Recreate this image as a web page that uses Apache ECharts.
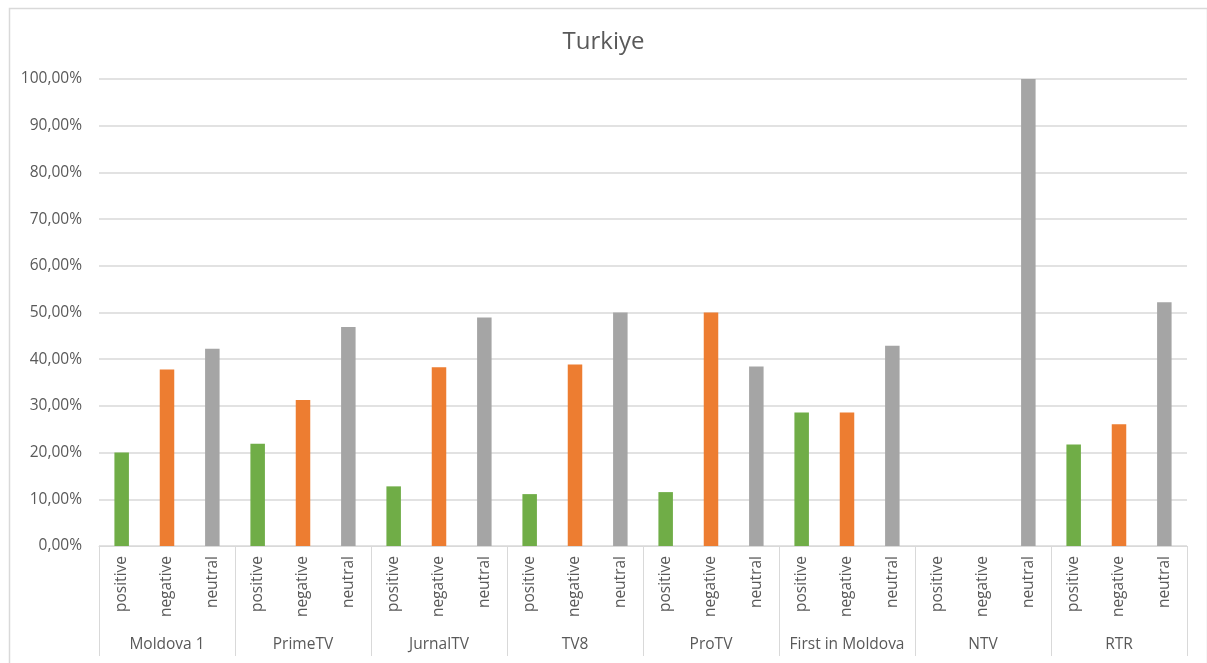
<!DOCTYPE html>
<html>
<head>
<meta charset="utf-8">
<title>Turkiye</title>
<script src="https://cdn.jsdelivr.net/npm/echarts@6/dist/echarts.min.js"></script>
<style>
  html, body { margin: 0; padding: 0; background: #ffffff; }
  #chart { width: 1207px; height: 663px; }
</style>
</head>
<body>
<div id="chart"></div>
<script>
// Share of coverage tone per TV channel, in percent
const channels = ['Moldova 1', 'PrimeTV', 'JurnalTV', 'TV8', 'ProTV', 'First in Moldova', 'NTV', 'RTR'];
const sentiments = ['positive', 'negative', 'neutral'];
const positive = [20.00, 21.88, 12.77, 11.11, 11.54, 28.57, 0, 21.74];
const negative = [37.78, 31.25, 38.30, 38.89, 50.00, 28.57, 0, 26.09];
const neutral  = [42.22, 46.88, 48.94, 50.00, 38.46, 42.86, 100.00, 52.17];
const yMin = 0, yMax = 100, yStep = 10;

const toneColor = { positive: '#70ad47', negative: '#ed7d31', neutral: '#a5a5a5' };
const valuesByTone = { positive, negative, neutral };

// Flatten into one category per (channel, tone) pair
const innerCats = [];
const barData = [];
channels.forEach((ch, i) => {
  sentiments.forEach(s => {
    innerCats.push(s);
    barData.push({ value: valuesByTone[s][i], itemStyle: { color: toneColor[s] } });
  });
});

const FONT = "'Open Sans', 'Liberation Sans', sans-serif";
const TEXT = '#595959';
const LINE = '#d9d9d9';

const chart = echarts.init(document.getElementById('chart'), null, { renderer: 'canvas' });
chart.setOption({
  backgroundColor: '#ffffff',
  animation: false,
  textStyle: { fontFamily: FONT },
  title: {
    text: 'Turkiye',
    left: 'center',
    top: 25,
    textStyle: { fontFamily: FONT, fontSize: 24, fontWeight: 'normal', color: TEXT }
  },
  graphic: [{
    type: 'rect',
    left: 7, top: 6,
    shape: { width: 1198, height: 662 },
    style: { fill: 'none', stroke: LINE, lineWidth: 1.5 },
    silent: true
  }],
  grid: { left: 99, right: 20, top: 79, bottom: 117, containLabel: false },
  xAxis: [
    {
      // inner level: tone of each bar
      type: 'category',
      position: 'bottom',
      data: innerCats,
      boundaryGap: true,
      axisLine: { show: true, lineStyle: { color: LINE, width: 1 } },
      axisTick: { show: false },
      axisLabel: {
        interval: 0, rotate: 90, margin: 10,
        fontFamily: FONT, fontSize: 15.5, color: TEXT
      },
      splitLine: { show: false }
    },
    {
      // outer level: channel groups, ticks act as group separators
      type: 'category',
      position: 'bottom',
      data: channels,
      boundaryGap: true,
      axisLine: { show: false },
      axisTick: { show: true, interval: 0, length: 110, lineStyle: { color: LINE, width: 1 } },
      axisLabel: {
        interval: 0, margin: 91,
        fontFamily: FONT, fontSize: 15.5, color: TEXT
      },
      splitLine: { show: false }
    }
  ],
  yAxis: {
    type: 'value',
    min: yMin, max: yMax, interval: yStep,
    axisLine: { show: false },
    axisTick: { show: false },
    axisLabel: {
      margin: 17,
      fontFamily: FONT, fontSize: 15.5, color: TEXT,
      formatter: v => v.toFixed(2).replace('.', ',') + '%'
    },
    splitLine: { show: true, lineStyle: { color: LINE, width: 1.5 } }
  },
  series: [{
    type: 'bar',
    xAxisIndex: 0,
    data: barData,
    barWidth: '32%'
  }]
});
</script>
</body>
</html>
